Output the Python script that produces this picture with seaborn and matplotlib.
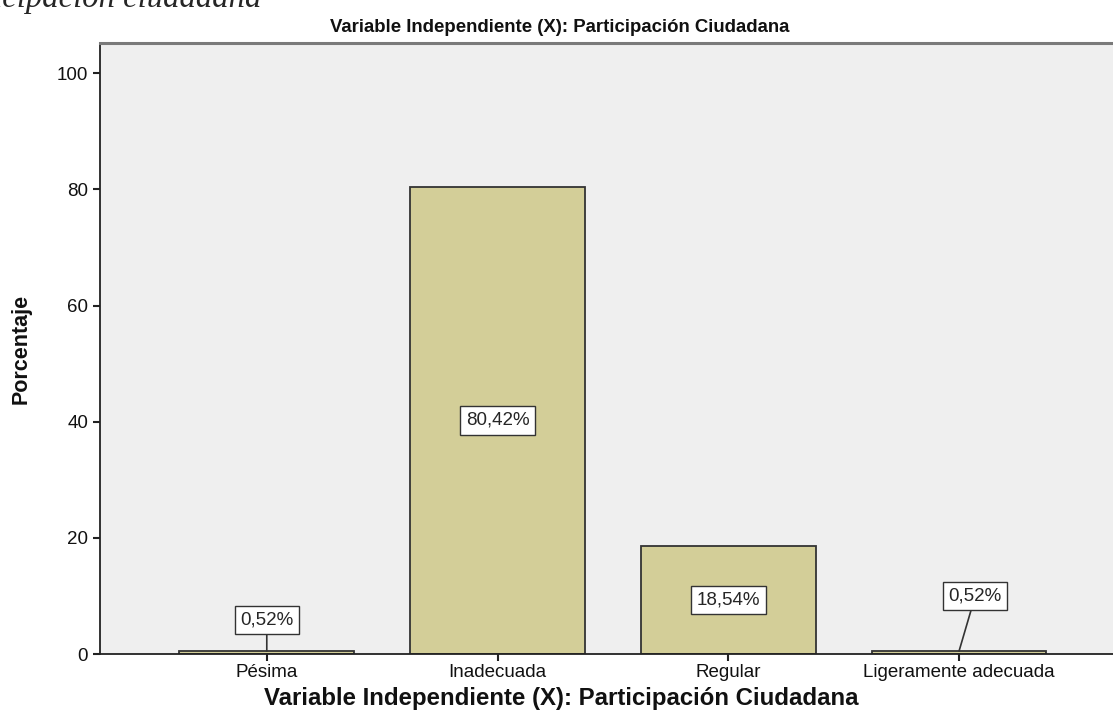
import matplotlib
matplotlib.use('Agg')
import matplotlib.pyplot as plt
import seaborn as sns

# datos
categorias = ['Pésima', 'Inadecuada', 'Regular', 'Ligeramente adecuada']
porcentajes = [0.52, 80.42, 18.54, 0.52]
etiquetas = ['0,52%', '80,42%', '18,54%', '0,52%']
titulo = 'Variable Independiente (X): Participación Ciudadana'

sns.set_style('white')
plt.rcParams['font.family'] = ['Liberation Sans', 'DejaVu Sans']

fig = plt.figure(figsize=(11.13, 7.21), dpi=100)
ax = fig.add_axes([0.0898, 0.0929, 0.9102, 0.8475])
ax.set_facecolor('#EFEFEF')

sns.barplot(x=categorias, y=porcentajes, color='#D3CE98', saturation=1,
            width=0.757, edgecolor='#333333', linewidth=1.3, ax=ax)

# etiquetas de las barras
for i, (v, t) in enumerate(zip(porcentajes, etiquetas)):
    caja = dict(boxstyle='square,pad=0.3', fc='white', ec='#333333', lw=1)
    if v > 5:
        ax.text(i, v / 2, t, ha='center', va='center', fontsize=13.5, bbox=caja)
    else:
        dx = 0.07 if i == len(porcentajes) - 1 else 0.0
        dy = 10.0 if i == len(porcentajes) - 1 else 5.85
        ax.annotate(t, xy=(i, v), xytext=(i + dx, dy), ha='center', va='center',
                    fontsize=13.5, bbox=caja,
                    arrowprops=dict(arrowstyle='-', color='#333333', lw=1.2,
                                    shrinkA=0, shrinkB=0))

ax.set_xlim(-0.723, 3.667)
ax.set_ylim(0, 105.2)
ax.set_yticks([0, 20, 40, 60, 80, 100])

ax.spines['right'].set_visible(False)
ax.spines['top'].set_color('#7A7A7A')
ax.spines['top'].set_linewidth(2.2)
ax.spines['left'].set_color('#222222')
ax.spines['bottom'].set_color('#222222')
ax.spines['left'].set_linewidth(1.3)
ax.spines['bottom'].set_linewidth(1.3)
ax.tick_params(axis='both', direction='out', length=5, width=1.5, color='#222222',
               labelsize=13.5, labelcolor='#111111', bottom=True, left=True)
ax.tick_params(axis='x', labelsize=13.5, pad=2)

ax.set_ylabel('Porcentaje', fontsize=15.5, fontweight='bold', labelpad=18, color='#111111')
ax.set_xlabel('')

# titulo y eje x centrados en la figura
fig.text(0.503, 1 - 27 / 721, titulo, ha='center', va='center',
         fontsize=13.4, fontweight='bold', color='#111111')
fig.text(0.504, 1 - 698 / 721, titulo, ha='center', va='center',
         fontsize=17.3, fontweight='bold', color='#111111')

# leyenda recortada de la parte superior
fig.text(262 / 1113, 1 - 7 / 721, 'Participación ciudadana', ha='right', va='baseline',
         fontsize=23.5, fontstyle='italic', family=['Liberation Serif'])

fig.savefig('out.png', dpi=100)
